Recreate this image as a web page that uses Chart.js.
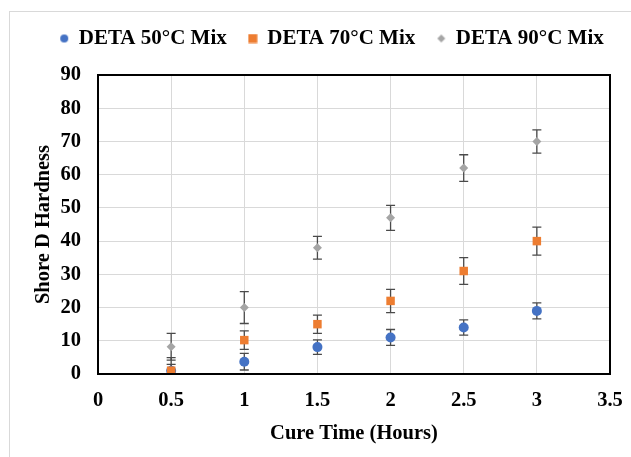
<!DOCTYPE html>
<html>
<head>
<meta charset="utf-8">
<script src="https://cdn.jsdelivr.net/npm/chart.js@4/dist/chart.umd.min.js"></script>
<style>
html,body{margin:0;padding:0;background:#fff;}
#wrap{position:relative;width:631px;height:457px;}
</style>
</head>
<body>
<div id="wrap"><canvas id="c" width="631" height="457"></canvas></div>
<script>
const cureTime = [0.5, 1, 1.5, 2, 2.5, 3];
const seriesNames = ['DETA 50°C Mix', 'DETA 70°C Mix', 'DETA 90°C Mix'];
const deta50 = [1, 3.7, 8.1, 11, 14, 19];
const deta50Err = [1.9, 2.5, 2.2, 2.4, 2.3, 2.4];
const deta70 = [1, 10.2, 15, 22, 31, 40];
const deta70Err = [3.9, 2.8, 2.75, 3.5, 4, 4.2];
const deta90 = [8.2, 20, 38, 47, 62, 70];
const deta90Err = [4, 4.8, 3.4, 3.75, 4, 3.5];
const yTicks = [0, 10, 20, 30, 40, 50, 60, 70, 80, 90];
const xTicks = [0, 0.5, 1, 1.5, 2, 2.5, 3, 3.5];

const colors = ['#4472C4', '#ED7D31', '#A5A5A5'];
const values = [deta50, deta70, deta90];
const errs = [deta50Err, deta70Err, deta90Err];
const styles = ['circle', 'rect', 'rectRot'];
const radii = [5, 6, 4.5];

function makeMarker(kind, color) {
  const c = document.createElement('canvas');
  c.width = 10; c.height = 10;
  const g = c.getContext('2d');
  g.fillStyle = color;
  if (kind === 'circle') { g.beginPath(); g.arc(5, 5, 4, 0, Math.PI * 2); g.fill(); }
  else if (kind === 'rect') { g.fillRect(0.5, 0.5, 9, 9); }
  else { g.beginPath(); g.moveTo(5, 1); g.lineTo(9, 5); g.lineTo(5, 9); g.lineTo(1, 5); g.closePath(); g.fill(); }
  return c;
}
const legendMarkers = styles.map((s, i) => makeMarker(s, colors[i]));

const datasets = values.map((v, i) => ({
  label: seriesNames[i],
  data: cureTime.map((x, j) => ({x: x, y: v[j]})),
  errors: errs[i],
  backgroundColor: colors[i],
  borderColor: colors[i],
  pointStyle: styles[i],
  pointRadius: radii[i],
  pointHoverRadius: radii[i],
  borderWidth: 0,
  showLine: false,
  order: 3 - i
}));

const errorBars = {
  id: 'errorBars',
  beforeDatasetsDraw(chart) {
    const ctx = chart.ctx;
    const xs = chart.scales.x, ys = chart.scales.y;
    ctx.save();
    ctx.strokeStyle = '#4a4a4a';
    ctx.lineWidth = 1.3;
    chart.data.datasets.forEach(ds => {
      ds.data.forEach((p, j) => {
        const e = ds.errors[j];
        const px = xs.getPixelForValue(p.x);
        const top = ys.getPixelForValue(p.y + e);
        const bot = ys.getPixelForValue(Math.max(p.y - e, 0));
        ctx.beginPath();
        ctx.moveTo(px, top); ctx.lineTo(px, bot);
        ctx.moveTo(px - 4.5, top); ctx.lineTo(px + 4.5, top);
        if (p.y - e > 0) { ctx.moveTo(px - 4.5, bot); ctx.lineTo(px + 4.5, bot); }
        ctx.stroke();
      });
    });
    ctx.restore();
  }
};

const frame = {
  id: 'frame',
  beforeDraw(chart) {
    const ctx = chart.ctx;
    ctx.save();
    ctx.strokeStyle = '#d9d9d9';
    ctx.lineWidth = 1;
    ctx.strokeRect(9.5, 11.5, 700, 600);
    ctx.restore();
  },
  afterDatasetsDraw(chart) {
    const a = chart.chartArea;
    const ctx = chart.ctx;
    ctx.save();
    ctx.strokeStyle = '#000';
    ctx.lineWidth = 2;
    ctx.strokeRect(a.left, a.top, a.right - a.left, a.bottom - a.top);
    ctx.restore();
  }
};

const legendPad = {
  id: 'legendPad',
  beforeInit(chart) {
    const orig = chart.legend.fit;
    chart.legend.fit = function () {
      this.maxWidth = 660;
      orig.call(this);
      this.width = 580;
      this.height += 16;
    };
  },
  afterLayout(chart) {
    chart.legend.left = 24;
    chart.legend.right = 640;
  }
};

const fam = '"Liberation Serif", "Times New Roman", serif';
const tickFont = {family: fam, weight: 'bold', size: 20.5};
const titleFont = {family: fam, weight: 'bold', size: 20.5};
const legendFont = {family: fam, weight: 'bold', size: 21};

new Chart(document.getElementById('c'), {
  type: 'scatter',
  data: {datasets: datasets},
  plugins: [errorBars, frame, legendPad],
  options: {
    responsive: false,
    animation: false,
    layout: {padding: {top: 6, left: 27, right: 21, bottom: 7}},
    plugins: {
      tooltip: {enabled: false},
      legend: {
        position: 'top',
        labels: {
          usePointStyle: true,
          boxWidth: 8,
          boxHeight: 8,
          padding: 22,
          color: '#000',
          font: legendFont,
          generateLabels(chart) {
            const items = Chart.defaults.plugins.legend.labels.generateLabels(chart);
            items.sort((a, b) => a.datasetIndex - b.datasetIndex);
            items.forEach(it => { it.pointStyle = legendMarkers[it.datasetIndex]; });
            return items;
          }
        }
      }
    },
    scales: {
      x: {
        type: 'linear',
        min: 0, max: 3.5,
        afterBuildTicks(s) { s.ticks = xTicks.map(v => ({value: v})); },
        afterFit(s) { s.height = 76; s.paddingRight = 0; s.paddingLeft = 0; },
        grid: {color: '#d9d9d9', drawTicks: false},
        border: {display: false},
        ticks: {color: '#000', font: tickFont, padding: 14, autoSkip: false, maxRotation: 0, callback: v => String(v)},
        title: {display: true, text: 'Cure Time (Hours)', color: '#000', font: titleFont, padding: {top: 13}}
      },
      y: {
        min: 0, max: 90,
        afterBuildTicks(s) { s.ticks = yTicks.map(v => ({value: v})); },
        afterFit(s) { s.width = 71; },
        grid: {color: '#d9d9d9', drawTicks: false},
        border: {display: false},
        ticks: {color: '#000', font: tickFont, padding: 17, autoSkip: false},
        title: {display: true, text: 'Shore D Hardness', color: '#000', font: titleFont, padding: {bottom: 4}}
      }
    }
  }
});
</script>
</body>
</html>
